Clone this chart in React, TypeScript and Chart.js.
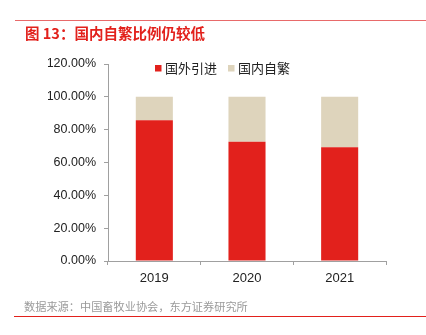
import React, { useEffect, useRef } from "react";
import { Chart, registerables } from "chart.js";

Chart.register(...registerables);

const categories = ["2019", "2020", "2021"];
const foreignImport = [85.8, 72.6, 69.3];
const domestic = [14.2, 27.4, 30.7];
const seriesNames = ["国外引进", "国内自繁"];
const yTicks = [0, 20, 40, 60, 80, 100, 120];
const titleText = "图 13：国内自繁比例仍较低";
const sourceText = "数据来源：中国畜牧业协会，东方证券研究所";

const RED = "#E2211C";
const BEIGE = "#DED4BC";
const FONT = "'Liberation Sans', Arial, 'Noto Sans CJK SC', sans-serif";
const CJK = "'Noto Sans CJK SC', 'Liberation Sans', sans-serif";

const decor = {
  id: "decor",
  afterDraw(chart: any) {
    const ctx = chart.ctx;
    ctx.save();
    // top rule
    ctx.strokeStyle = "#E86A6A";
    ctx.lineWidth = 1;
    ctx.beginPath();
    ctx.moveTo(15, 20.5);
    ctx.lineTo(426, 20.5);
    ctx.stroke();
    // title
    ctx.fillStyle = "#E2211C";
    ctx.font = `bold 14.5px ${CJK}`;
    ctx.textBaseline = "middle";
    ctx.textAlign = "left";
    ctx.fillText(titleText, 25, 33);
    // source
    ctx.fillStyle = "#9A9A9A";
    ctx.font = `11.2px ${CJK}`;
    ctx.fillText(sourceText, 24, 307);
    // bottom rule
    ctx.strokeStyle = "#E2211C";
    ctx.beginPath();
    ctx.moveTo(14, 316.5);
    ctx.lineTo(426, 316.5);
    ctx.stroke();
    // legend
    const items = [
      { x: 155, color: RED, text: seriesNames[0] },
      { x: 228, color: BEIGE, text: seriesNames[1] },
    ];
    ctx.font = `13px ${CJK}`;
    for (const it of items) {
      ctx.fillStyle = it.color;
      ctx.fillRect(it.x, 65, 6.5, 6.5);
      ctx.fillStyle = "#222";
      ctx.fillText(it.text, it.x + 10, 68.5);
    }
    ctx.restore();
  },
};

function App() {
  const ref = useRef<HTMLCanvasElement>(null);
  useEffect(() => {
    document.body.style.margin = "0";
    const chart = new Chart(ref.current!, {
      type: "bar",
      data: {
        labels: categories,
        datasets: [
          { label: seriesNames[0], data: foreignImport, backgroundColor: RED },
          { label: seriesNames[1], data: domestic, backgroundColor: BEIGE },
        ],
      },
      options: {
        animation: false,
        responsive: false,
        devicePixelRatio: 1,
        layout: { padding: { left: 48, right: 40, top: 64, bottom: 50 } },
        plugins: { legend: { display: false }, tooltip: { enabled: false } },
        datasets: { bar: { categoryPercentage: 1, barPercentage: 0.4 } },
        scales: {
          x: {
            stacked: true,
            offset: true,
            grid: {
              offset: true,
              drawOnChartArea: false,
              drawTicks: true,
              tickLength: 4,
              color: "#A0A0A0",
            },
            border: { color: "#A0A0A0" },
            ticks: { color: "#222", font: { family: FONT, size: 13 }, padding: 6 },
            afterFit(s: any) {
              s.height = 24;
            },
          },
          y: {
            stacked: true,
            min: 0,
            max: 120,
            grid: {
              drawOnChartArea: false,
              drawTicks: true,
              tickLength: 4,
              color: "#A0A0A0",
            },
            border: { color: "#A0A0A0" },
            afterBuildTicks(s: any) {
              s.ticks = yTicks.map((v) => ({ value: v }));
            },
            ticks: {
              color: "#222",
              font: { family: FONT, size: 12.5 },
              padding: 8,
              callback: (v: any) => Number(v).toFixed(2) + "%",
            },
            afterFit(s: any) {
              s.width = 60;
            },
          },
        },
      },
      plugins: [decor],
    });
    return () => chart.destroy();
  }, []);
  return <canvas ref={ref} width={426} height={335} style={{ display: "block" }} />;
}

export default App;
